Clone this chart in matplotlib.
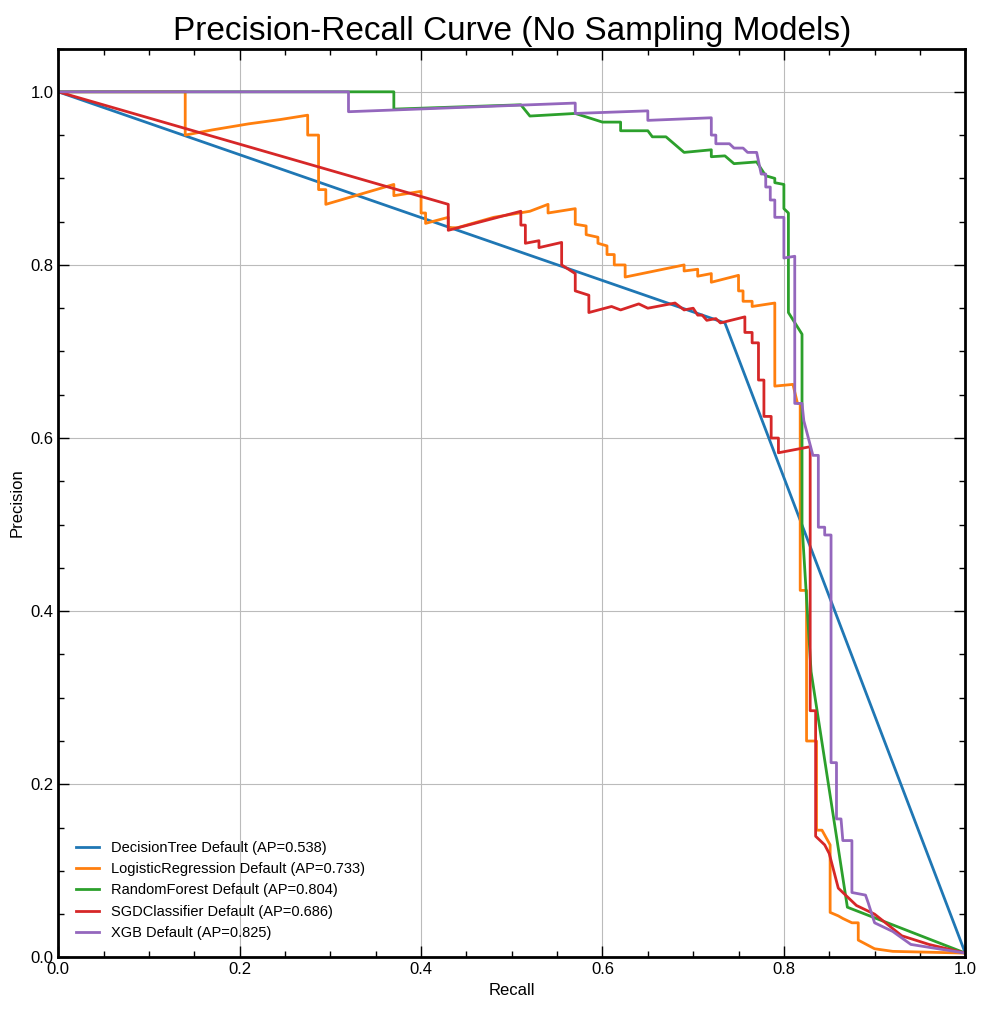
import matplotlib
matplotlib.use('Agg')
import matplotlib.pyplot as plt
from matplotlib.ticker import MultipleLocator

plt.rcParams['font.family'] = ['Liberation Sans', 'DejaVu Sans']

# (recall, precision) points
dt_recall = [0.0, 0.735, 1.0]
dt_prec = [1.0, 0.733, 0.005]

lr_recall = [0.0, 0.14, 0.14, 0.17, 0.21, 0.245, 0.275, 0.275, 0.287, 0.287, 0.295, 0.295, 0.37, 0.37,
             0.4, 0.4, 0.405, 0.405, 0.43, 0.43, 0.44, 0.48, 0.52, 0.54, 0.54, 0.57, 0.57, 0.582, 0.582, 0.595,
             0.595, 0.605, 0.605, 0.613, 0.613, 0.625, 0.625, 0.69, 0.69, 0.705, 0.705, 0.72, 0.72,
             0.75, 0.75, 0.755, 0.755, 0.765, 0.765, 0.79, 0.79, 0.81, 0.815, 0.818, 0.818, 0.825,
             0.825, 0.836, 0.836, 0.842, 0.851, 0.851, 0.86, 0.865, 0.875, 0.882, 0.882, 0.9, 0.92, 1.0]
lr_prec = [1.0, 1.0, 0.95, 0.956, 0.963, 0.968, 0.973, 0.95, 0.95, 0.887, 0.887, 0.87, 0.893, 0.88,
           0.885, 0.86, 0.86, 0.848, 0.855, 0.843, 0.843, 0.855, 0.862, 0.87, 0.86, 0.865, 0.847, 0.845,
           0.835, 0.832, 0.825, 0.822, 0.812, 0.812, 0.8, 0.8, 0.786, 0.8, 0.793, 0.795, 0.787, 0.79,
           0.78, 0.788, 0.77, 0.77, 0.758, 0.758, 0.752, 0.756, 0.66, 0.662, 0.64, 0.64, 0.424,
           0.424, 0.25, 0.25, 0.147, 0.147, 0.13, 0.052, 0.048, 0.045, 0.04, 0.04, 0.02, 0.01, 0.007, 0.005]

rf_recall = [0.0, 0.37, 0.37, 0.51, 0.52, 0.57, 0.6, 0.62, 0.62, 0.65, 0.655, 0.67, 0.69, 0.72, 0.72,
             0.735, 0.745, 0.77, 0.78, 0.79, 0.79, 0.8, 0.8, 0.805, 0.805, 0.82, 0.82, 0.83, 0.87, 1.0]
rf_prec = [1.0, 1.0, 0.98, 0.985, 0.972, 0.975, 0.965, 0.965, 0.955, 0.955, 0.948, 0.948, 0.93,
           0.933, 0.925, 0.926, 0.917, 0.919, 0.903, 0.9, 0.895, 0.893, 0.865, 0.86, 0.745, 0.72,
           0.5, 0.33, 0.058, 0.005]

sgd_recall = [0.0, 0.43, 0.43, 0.51, 0.51, 0.515, 0.515, 0.53, 0.53, 0.555, 0.555, 0.57, 0.57,
              0.585, 0.585, 0.61, 0.62, 0.64, 0.65, 0.68, 0.69, 0.7, 0.705, 0.71, 0.715, 0.725,
              0.73, 0.757, 0.757, 0.765, 0.765, 0.772, 0.772, 0.778, 0.778, 0.786, 0.786, 0.794,
              0.794, 0.829, 0.829, 0.835, 0.835, 0.845, 0.85, 0.855, 0.86, 0.87, 0.88, 0.9, 0.93, 0.96, 1.0]
sgd_prec = [1.0, 0.87, 0.84, 0.862, 0.846, 0.846, 0.825, 0.828, 0.82, 0.826, 0.8, 0.79, 0.77,
            0.765, 0.745, 0.752, 0.748, 0.755, 0.75, 0.756, 0.748, 0.75, 0.742, 0.742, 0.736,
            0.738, 0.733, 0.74, 0.722, 0.722, 0.71, 0.71, 0.667, 0.667, 0.625, 0.625, 0.6,
            0.6, 0.583, 0.59, 0.285, 0.285, 0.14, 0.13, 0.12, 0.1, 0.08, 0.07, 0.06, 0.05, 0.025, 0.015, 0.005]

xgb_recall = [0.0, 0.32, 0.32, 0.57, 0.57, 0.65, 0.65, 0.72, 0.72, 0.725, 0.725, 0.74, 0.745, 0.755,
              0.76, 0.77, 0.775, 0.78, 0.78, 0.785, 0.785, 0.79, 0.79, 0.8, 0.8, 0.812, 0.812, 0.82,
              0.822, 0.832, 0.838, 0.838, 0.845, 0.845, 0.852, 0.852, 0.858, 0.858, 0.863, 0.865,
              0.875, 0.875, 0.89, 0.893, 0.9, 0.92, 0.94, 1.0]
xgb_prec = [1.0, 1.0, 0.977, 0.987, 0.975, 0.978, 0.967, 0.97, 0.95, 0.95, 0.94, 0.94, 0.935, 0.935,
            0.93, 0.93, 0.905, 0.905, 0.89, 0.89, 0.875, 0.875, 0.855, 0.855, 0.808, 0.81, 0.64,
            0.64, 0.62, 0.58, 0.58, 0.497, 0.497, 0.488, 0.488, 0.225, 0.225, 0.16, 0.16, 0.135,
            0.135, 0.075, 0.072, 0.063, 0.04, 0.03, 0.015, 0.005]

curves = [
    ("DecisionTree Default (AP=0.538)", dt_recall, dt_prec, "#1f77b4"),
    ("LogisticRegression Default (AP=0.733)", lr_recall, lr_prec, "#ff7f0e"),
    ("RandomForest Default (AP=0.804)", rf_recall, rf_prec, "#2ca02c"),
    ("SGDClassifier Default (AP=0.686)", sgd_recall, sgd_prec, "#d62728"),
    ("XGB Default (AP=0.825)", xgb_recall, xgb_prec, "#9467bd"),
]

fig, ax = plt.subplots(figsize=(9.87, 10.11), dpi=100)
for label, r, p, c in curves:
    ax.plot(r, p, color=c, linewidth=2, label=label)

ax.set_xlim(0, 1)
ax.set_ylim(0, 1.05)
ax.set_xlabel('Recall', fontsize=12)
ax.set_ylabel('Precision', fontsize=12)
ax.set_title('Precision-Recall Curve (No Sampling Models)', fontsize=24)
ax.xaxis.set_major_locator(MultipleLocator(0.2))
ax.yaxis.set_major_locator(MultipleLocator(0.2))
ax.xaxis.set_minor_locator(MultipleLocator(0.05))
ax.yaxis.set_minor_locator(MultipleLocator(0.05))
ax.tick_params(which='both', direction='in', top=True, right=True, labelsize=12)
ax.tick_params(which='major', length=8, width=1)
ax.tick_params(which='minor', length=4, width=1)
for s in ax.spines.values():
    s.set_linewidth(2)
ax.grid(True, color='#bbbbbb', linewidth=0.8)
ax.legend(loc='lower left', frameon=False, fontsize=10.5, handlelength=1.6, borderaxespad=0.8)

plt.subplots_adjust(left=0.059, right=0.978, bottom=0.053, top=0.952)
plt.savefig('out.png', dpi=100)
plt.close()
